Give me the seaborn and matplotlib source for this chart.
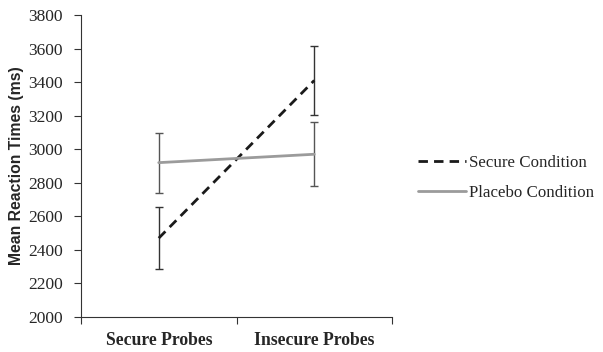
import matplotlib
matplotlib.use("Agg")
import matplotlib.pyplot as plt
import seaborn as sns
import pandas as pd
import numpy as np

categories = ["Secure Probes", "Insecure Probes"]
conditions = ["Secure Condition", "Placebo Condition"]
secure_means = [2470, 3410]
secure_err = [183, 207]
placebo_means = [2920, 2970]
placebo_err = [178, 190]
y_ticks = [2000, 2200, 2400, 2600, 2800, 3000, 3200, 3400, 3600, 3800]

rows = []
for i, c in enumerate(categories):
    rows.append({"pos": i, "probe": c, "condition": conditions[0], "rt": secure_means[i], "err": secure_err[i]})
    rows.append({"pos": i, "probe": c, "condition": conditions[1], "rt": placebo_means[i], "err": placebo_err[i]})
df = pd.DataFrame(rows)

sns.set_style("white")
plt.rcParams["font.family"] = ["Liberation Serif", "DejaVu Serif"]

fig = plt.figure(figsize=(6.03, 3.52), dpi=100)
ax = fig.add_axes([81/603, 1-317/352, (392-81)/603, (317-15)/352])

palette = {conditions[0]: "#1a1a1a", conditions[1]: "#9b9b9b"}
sns.lineplot(data=df, x="pos", y="rt", hue="condition", style="condition",
             palette=palette, dashes={conditions[0]: (3.4, 2.2), conditions[1]: ""},
             linewidth=2.0, ax=ax, legend=False, sort=False)

for cond, col in [(conditions[0], "#333333"), (conditions[1], "#555555")]:
    d = df[df.condition == cond]
    ax.errorbar(d["pos"], d["rt"], yerr=d["err"], fmt="none", ecolor=col,
                elinewidth=1.0, capsize=3.0, capthick=1.0, zorder=1)

ax.set_xlim(-0.5, 1.5)
ax.set_ylim(2000, 3800)
ax.set_yticks(y_ticks)
ax.set_yticklabels([str(t) for t in y_ticks], fontsize=12.5)
ax.set_xticks([-0.5, 0.5, 1.5])
ax.set_xticklabels(["", "", ""])
ax.set_xticks([0, 1], minor=True)
ax.set_xticklabels(categories, minor=True, fontsize=12.7, fontweight="bold")
ax.tick_params(axis="x", which="minor", length=0, pad=11)
ax.tick_params(axis="x", which="major", length=5, width=0.8, color="#333333", direction="out", bottom=True)
ax.tick_params(axis="y", length=5, width=0.8, color="#333333", direction="out", left=True, pad=8)
ax.set_xlabel("")
ax.set_ylabel("Mean Reaction Times (ms)", fontsize=11.3, fontweight="bold",
              family=["Liberation Sans", "DejaVu Sans"], labelpad=4)
ax.yaxis.set_label_coords(-57/311, 0.5)
for s in ["top", "right"]:
    ax.spines[s].set_visible(False)
for s in ["left", "bottom"]:
    ax.spines[s].set_color("#333333")
    ax.spines[s].set_linewidth(0.8)

from matplotlib.lines import Line2D
handles = [Line2D([], [], color="#1a1a1a", lw=2.0, dashes=(3.4, 2.2)),
           Line2D([], [], color="#9b9b9b", lw=2.0)]
fig.legend(handles, conditions, loc="center left", bbox_to_anchor=(403/603, 1-178/352),
           frameon=False, fontsize=12.2, handlelength=2.8, handletextpad=0.2,
           labelspacing=0.8)

fig.savefig("out.png", dpi=100)
